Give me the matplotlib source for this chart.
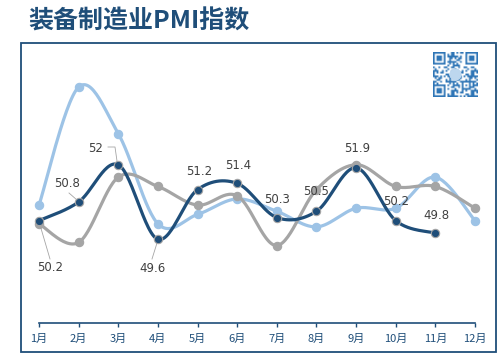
import numpy as np
import matplotlib
matplotlib.use("Agg")
import matplotlib.pyplot as plt
from matplotlib.patches import Rectangle
from matplotlib.colors import ListedColormap

plt.rcParams['font.family'] = ['Noto Sans CJK SC', 'DejaVu Sans']

# data
months = ['1月', '2月', '3月', '4月', '5月', '6月', '7月', '8月', '9月', '10月', '11月', '12月']
light_vals = [50.7, 54.5, 53.0, 50.1, 50.4, 50.9, 50.5, 50.0, 50.6, 50.6, 51.6, 50.2]
gray_vals = [50.1, 49.5, 51.6, 51.3, 50.7, 51.0, 49.4, 51.2, 52.0, 51.3, 51.3, 50.6]
dark_vals = [50.2, 50.8, 52.0, 49.6, 51.2, 51.4, 50.3, 50.5, 51.9, 50.2, 49.8]

DARK = '#1F4E79'
LIGHT = '#9DC3E6'
GRAY = '#A5A5A5'


def smooth(x, y, n=30):
    # Catmull-Rom style bezier, close to Excel's smoothed line
    pts = np.column_stack([np.asarray(x, float), np.asarray(y, float)])
    out = []
    for i in range(len(pts) - 1):
        p0 = pts[i - 1] if i > 0 else pts[i]
        p1 = pts[i]
        p2 = pts[i + 1]
        p3 = pts[i + 2] if i + 2 < len(pts) else pts[i + 1]
        c1 = p1 + (p2 - p0) / 6
        c2 = p2 - (p3 - p1) / 6
        t = np.linspace(0, 1, n)[:, None]
        seg = (1 - t) ** 3 * p1 + 3 * (1 - t) ** 2 * t * c1 + 3 * (1 - t) * t ** 2 * c2 + t ** 3 * p2
        out.append(seg if i == 0 else seg[1:])
    seg = np.vstack(out)
    return seg[:, 0], seg[:, 1]


fig = plt.figure(figsize=(5, 3.63), dpi=100)

# outer frame
fig.patches.append(Rectangle((21 / 500, 1 - 352 / 363), 475 / 500, 309 / 363,
                             transform=fig.transFigure, fill=False,
                             edgecolor=DARK, linewidth=1.3))

fig.text(28 / 500, 1 - 22 / 363, '装备制造业PMI指数', fontsize=18, fontweight='bold',
         color=DARK, va='center', ha='left')

ax = fig.add_axes([39 / 500, 1 - 323.2 / 363, 436 / 500, (323.2 - 71.5) / 363])
ax.set_xlim(0, 11)
ax.set_ylim(46.9, 55.0)

for vals, col, z in [(light_vals, LIGHT, 2), (gray_vals, GRAY, 3), (dark_vals, DARK, 4)]:
    xs = np.arange(len(vals))
    sx, sy = smooth(xs, vals)
    ax.plot(sx, sy, color=col, linewidth=2.3, zorder=z, clip_on=False,
            solid_capstyle='round')
    edge = GRAY if col == DARK else col
    ax.plot(xs, vals, 'o', color=col, markersize=6, markeredgecolor=edge,
            markeredgewidth=0.8, zorder=z + 0.5, clip_on=False)

# data labels of the dark series (offsets in points)
label_offsets = [(8, -34), (-8, 13), (-16, 12), (-4, -21), (1, 13), (1, 13),
                 (0, 13), (0, 14), (1, 14), (0, 14), (1, 13)]
for i, (v, off) in enumerate(zip(dark_vals, label_offsets)):
    ax.annotate(f'{v:g}', (i, v), xytext=off, textcoords='offset points',
                ha='center', va='center', fontsize=8.5, color='#404040',
                family=['DejaVu Sans'], zorder=6)


def leader(pts_px):
    # leader lines, given in image pixels
    arr = np.array([[px, 363 - py] for px, py in pts_px], float)
    axc = ax.transAxes.inverted().transform(arr)
    ax.plot(axc[:, 0], axc[:, 1], transform=ax.transAxes, clip_on=False,
            color=GRAY, linewidth=0.6, zorder=1)


leader([(40, 225), (50, 259)])
leader([(69, 193), (77, 200)])
leader([(108, 147), (115, 147), (117, 161)])
leader([(157, 243), (152, 259)])

ax.set_xticks(range(12))
ax.set_xticklabels(months, fontsize=8, color=DARK)
ax.set_yticks([])
for s in ['left', 'right', 'top']:
    ax.spines[s].set_visible(False)
ax.spines['bottom'].set_color(DARK)
ax.spines['bottom'].set_linewidth(1.2)
ax.tick_params(axis='x', length=3, color=DARK, width=1, pad=5)

# qr-code like decoration
qax = fig.add_axes([433 / 500, 1 - 97 / 363, 45 / 500, 45 / 363])
n = 25
ii, jj = np.meshgrid(np.arange(n), np.arange(n), indexing='ij')
grid = (((ii * ii * 3 + jj * jj * 5 + ii * jj * 7 + ii + 2 * jj) % 11) < 5).astype(float)
for (r, c) in [(0, 0), (0, n - 7), (n - 7, 0)]:
    grid[r:r + 8 if r == 0 else r + 7, max(c - 1, 0):c + 8 if c == 0 else n] = 0
    grid[r:r + 7, c:c + 7] = 0
    grid[r, c:c + 7] = 1
    grid[r + 6, c:c + 7] = 1
    grid[r:r + 7, c] = 1
    grid[r:r + 7, c + 6] = 1
    grid[r + 2:r + 5, c + 2:c + 5] = 1
grid[n - 9:n - 4, n - 9:n - 4] = 0
grid[n - 9, n - 9:n - 4] = 1
grid[n - 5, n - 9:n - 4] = 1
grid[n - 9:n - 4, n - 9] = 1
grid[n - 9:n - 4, n - 5] = 1
grid[n - 7, n - 7] = 1
qax.imshow(grid, cmap=ListedColormap(['white', '#2E75B6']), interpolation='bilinear')
qax.add_patch(plt.Circle((12, 12), 3.0, color='#BDD7EE'))
qax.axis('off')

fig.savefig('out.png', dpi=100)
